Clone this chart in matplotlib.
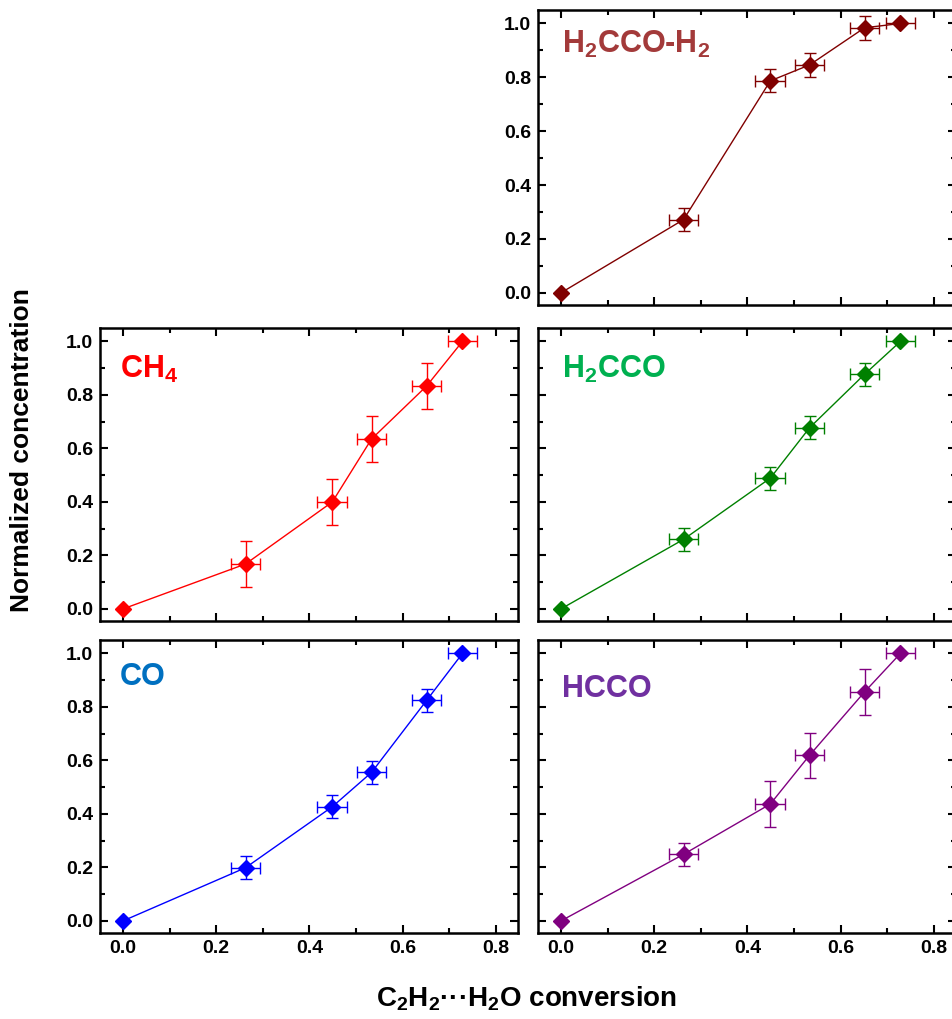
import numpy as np
import matplotlib
matplotlib.use('Agg')
import matplotlib.pyplot as plt
from matplotlib.ticker import MultipleLocator, FormatStrFormatter

plt.rcParams['font.family'] = ['Liberation Sans', 'DejaVu Sans']
plt.rcParams['font.weight'] = 'bold'
plt.rcParams['xtick.labelsize'] = 14
plt.rcParams['ytick.labelsize'] = 14
plt.rcParams['mathtext.fontset'] = 'custom'
plt.rcParams['mathtext.rm'] = 'Liberation Sans:bold'
plt.rcParams['mathtext.it'] = 'Liberation Sans:bold'
plt.rcParams['mathtext.bf'] = 'Liberation Sans:bold'

# conversion (x) shared by all panels
conv = np.array([0.0, 0.263, 0.449, 0.533, 0.651, 0.728])
conv_err = np.array([0.0, 0.032, 0.032, 0.032, 0.032, 0.032])

# normalized concentrations and errors
h2cco_h2 = np.array([0.0, 0.272, 0.787, 0.846, 0.984, 1.0])
h2cco_h2_err = np.array([0.0, 0.044, 0.043, 0.044, 0.044, 0.0])
ch4 = np.array([0.0, 0.168, 0.400, 0.635, 0.833, 1.0])
ch4_err = np.array([0.0, 0.086, 0.086, 0.086, 0.086, 0.0])
h2cco = np.array([0.0, 0.260, 0.489, 0.677, 0.877, 1.0])
h2cco_err = np.array([0.0, 0.042, 0.043, 0.043, 0.043, 0.0])
co = np.array([0.0, 0.199, 0.427, 0.555, 0.824, 1.0])
co_err = np.array([0.0, 0.042, 0.044, 0.044, 0.044, 0.0])
hcco = np.array([0.0, 0.249, 0.437, 0.619, 0.856, 1.0])
hcco_err = np.array([0.0, 0.044, 0.087, 0.085, 0.087, 0.0])

labels = ['H$_2$CCO-H$_2$', 'CH$_4$', 'H$_2$CCO', 'CO', 'HCCO']
line_colors = ['#800000', '#ff0000', '#008000', '#0000ff', '#800080']
label_colors = ['#a33a3a', '#ff0000', '#00b050', '#0070c0', '#7030a0']

fig = plt.figure(figsize=(9.52, 10.19), dpi=100)
W, H = 952.0, 1019.0

def axbox(left, top, w, h):
    return [left / W, 1 - (top + h) / H, w / W, h / H]

# (box, yvals, yerr, label idx, label pos, show x labels, show y labels)
panels = [
    (axbox(538, 10, 418, 295), h2cco_h2, h2cco_h2_err, 0, (0.057, 0.854), False, True),
    (axbox(100, 328, 418, 293), ch4, ch4_err, 1, (0.048, 0.829), False, True),
    (axbox(538, 328, 418, 293), h2cco, h2cco_err, 2, (0.057, 0.829), False, False),
    (axbox(100, 640, 418, 293), co, co_err, 3, (0.048, 0.846), True, True),
    (axbox(538, 640, 418, 293), hcco, hcco_err, 4, (0.057, 0.805), True, False),
]

for box, yv, ye, k, lpos, showx, showy in panels:
    ax = fig.add_axes(box)
    c = line_colors[k]
    ax.errorbar(conv[1:], yv[1:], xerr=conv_err[1:], yerr=ye[1:], fmt='none',
                ecolor=c, elinewidth=1.0, capsize=4.5, capthick=1.0, zorder=2)
    ax.plot(conv, yv, '-', color=c, lw=1.0, marker='D', ms=8, mec=c, mfc=c, zorder=3)
    ax.text(lpos[0], lpos[1], labels[k], transform=ax.transAxes, color=label_colors[k],
            fontsize=22, fontweight='bold', ha='left', va='baseline')
    ax.set_xlim(-0.049, 0.847)
    ax.set_ylim(-0.045, 1.05)
    ax.xaxis.set_major_locator(MultipleLocator(0.2))
    ax.xaxis.set_minor_locator(MultipleLocator(0.1))
    ax.yaxis.set_major_locator(MultipleLocator(0.2))
    ax.yaxis.set_minor_locator(MultipleLocator(0.1))
    ax.xaxis.set_major_formatter(FormatStrFormatter('%.1f'))
    ax.yaxis.set_major_formatter(FormatStrFormatter('%.1f'))
    ax.tick_params(which='both', direction='in', top=True, right=True, width=1.5)
    ax.tick_params(which='major', length=6, pad=5)
    ax.tick_params(which='minor', length=3.5)
    for s in ax.spines.values():
        s.set_linewidth(1.8)
    if not showx:
        ax.tick_params(labelbottom=False)
    if not showy:
        ax.tick_params(labelleft=False)

fig.text(0.023, 1 - 450 / H, 'Normalized concentration', rotation=90, ha='center',
         va='center', fontsize=19, fontweight='bold')
fig.text(526 / W, 1 - 999 / H, r'C$_2$H$_2$···H$_2$O conversion', ha='center',
         va='center', fontsize=20, fontweight='bold')

fig.savefig('out.png', dpi=100)
